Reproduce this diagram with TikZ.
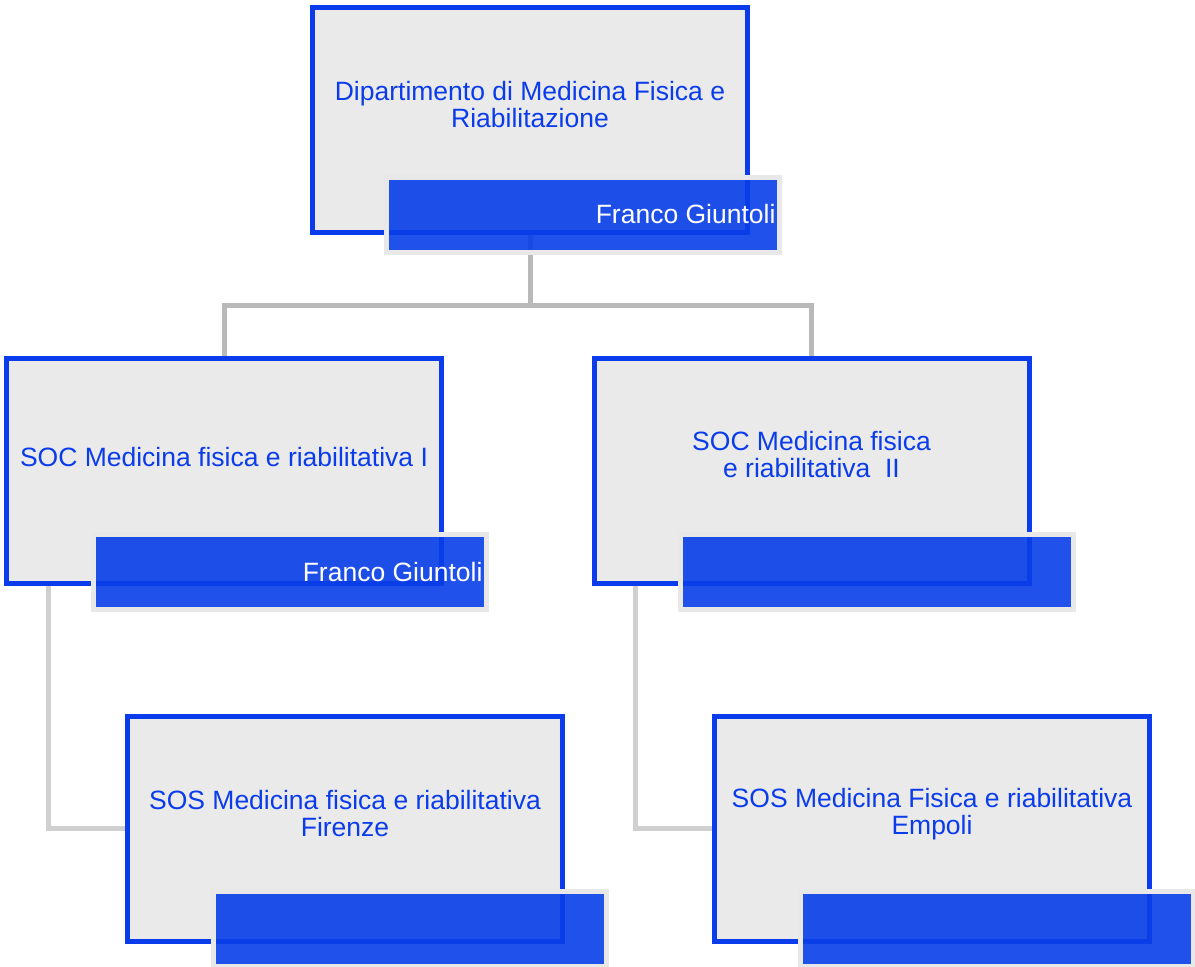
\documentclass[tikz,border=0pt]{standalone}
\usepackage{fontspec}
\setmainfont{Liberation Sans}
\usepackage{tikz}
\usetikzlibrary{positioning}
\usetikzlibrary{backgrounds}

\definecolor{unitblue}{RGB}{10,60,235}
\definecolor{barblue}{RGB}{8,62,232}
\definecolor{unitgray}{RGB}{234,234,234}
\definecolor{framegray}{RGB}{232,232,232}
\definecolor{linkgray}{RGB}{208,208,208}

\tikzset{
	unitbox/.style={draw=unitblue, line width=5, fill=unitgray, inner sep=0,
		minimum width=435, minimum height=225},
	unittext/.style={text=unitblue, align=center, font=\fontsize{26.5}{27}\selectfont},
	namebar/.style={draw=framegray, line width=5, fill=barblue, fill opacity=0.9,
		inner sep=0, minimum width=393, minimum height=75},
	nametext/.style={text=white, anchor=east, font=\fontsize{26.5}{27}\selectfont},
	link/.style={draw=linkgray, line width=5}
}

\begin{document}
\begin{tikzpicture}[x=1pt,y=-1pt]
	\useasboundingbox (0,0) rectangle (1195,967);
	\node[unitbox] (Dip) at (530,120) {};
	\node[unitbox] (Soc1) at (224,471) {};
	\node[unitbox] (Soc2) at (811.5,471) {};
	\node[unitbox] (Sos1) at (345,828.5) {};
	\node[unitbox] (Sos2) at (932,828.5) {};
	\node[unittext] (DipT) at ([yshift=15]Dip.center) {Dipartimento di Medicina Fisica e\\Riabilitazione};
	\node[unittext] (Soc1T) at ([yshift=14]Soc1.center) {SOC Medicina fisica e riabilitativa I};
	\node[unittext] (Soc2T) at ([yshift=16]Soc2.center) {SOC Medicina fisica\\e riabilitativa~~II};
	\node[unittext] (Sos1T) at ([yshift=15]Sos1.center) {SOS Medicina fisica e riabilitativa\\Firenze};
	\node[unittext] (Sos2T) at ([yshift=14]Sos2.center) {SOS Medicina Fisica e riabilitativa\\Empoli};
	\node[namebar] (DipN) at (583,214.5) {};
	\node[namebar] (Soc1N) at (290,572) {};
	\node[namebar] (Soc2N) at (877,572) {};
	\node[namebar] (Sos1N) at (410,928.5) {};
	\node[namebar] (Sos2N) at (996.5,928.5) {};
	\node[nametext] (DipH) at ([xshift=-3]DipN.east) {Franco Giuntoli};
	\node[nametext] (Soc1H) at ([xshift=-3]Soc1N.east) {Franco Giuntoli};
	\begin{pgfonlayer}{background}
		\draw[link, draw=gray!55]	(Dip.south) -- ++(0,70) -| (Soc1.north);
		\draw[link, draw=gray!55]	(Dip.south) -- ++(0,70) -| (Soc2.north);
		\draw[link]	([xshift=44]Soc1.south west) |- (Sos1.west);
		\draw[link]	([xshift=44]Soc2.south west) |- (Sos2.west);
	\end{pgfonlayer}
\end{tikzpicture}
\end{document}
